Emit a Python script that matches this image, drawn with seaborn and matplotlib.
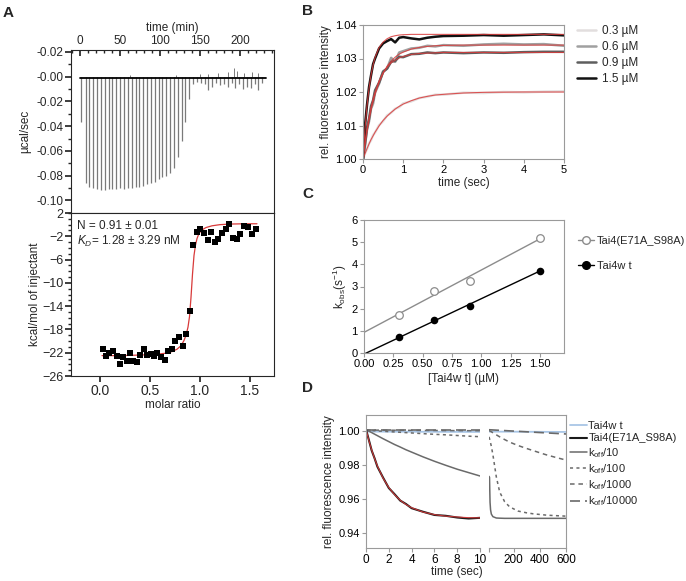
import numpy as np
import pandas as pd
import matplotlib
matplotlib.use('Agg')
import matplotlib.pyplot as plt
import seaborn as sns
from matplotlib.lines import Line2D
from matplotlib.ticker import MultipleLocator, FixedLocator, FixedFormatter, FormatStrFormatter

# ---------------- A: ITC raw thermogram ----------------
inj_time = [1.5, 7.0, 11.8, 16.6, 21.4, 26.2, 31.0, 35.8, 40.6, 45.4, 50.2, 55.0,
            59.8, 64.6, 69.4, 74.2, 79.0, 83.8, 88.6, 93.4, 98.2, 103.0, 107.8,
            112.6, 117.4, 122.2, 127.0, 131.8, 136.6, 141.4, 146.2, 151.0, 155.8,
            160.6, 165.4, 170.2, 175.0, 179.8, 184.6, 189.4, 194.2, 199.0, 203.8,
            208.6, 213.4, 218.2, 223.0, 227.8]
inj_peak = [-0.037, -0.086, -0.089, -0.090, -0.091, -0.092, -0.092, -0.091, -0.091,
            -0.091, -0.090, -0.091, -0.090, -0.090, -0.089, -0.089, -0.088, -0.087,
            -0.086, -0.085, -0.083, -0.081, -0.080, -0.078, -0.074, -0.065, -0.052,
            -0.037, -0.018, -0.006, -0.004, -0.005, -0.006, -0.011, -0.008, -0.005,
            -0.007, -0.006, -0.008, -0.005, -0.009, -0.006, -0.010, -0.008, -0.009,
            -0.006, -0.011, -0.005]
noise_time = [62, 120, 150, 160, 172, 185, 192, 196, 205, 215, 222]
noise_peak = [0.001, 0.001, 0.002, 0.002, 0.003, 0.004, 0.007, 0.005, 0.003, 0.004, 0.003]
base_time = [0, 233]
base_heat = [-0.0008, -0.0008]

# ---------------- A: integrated heats ----------------
molar_ratio = [0.03, 0.06, 0.09, 0.13, 0.17, 0.20, 0.23, 0.27, 0.30, 0.33, 0.37, 0.40,
               0.44, 0.47, 0.51, 0.54, 0.57, 0.61, 0.65, 0.68, 0.72, 0.75, 0.79, 0.83,
               0.86, 0.90, 0.93, 0.97, 1.00, 1.04, 1.08, 1.11, 1.15, 1.18, 1.22, 1.26,
               1.29, 1.33, 1.37, 1.40, 1.44, 1.48, 1.52, 1.56]
heat = [-21.3, -22.5, -22.0, -21.7, -22.5, -23.9, -22.8, -23.5, -22.1, -23.4, -23.6,
        -22.4, -21.4, -22.4, -22.2, -22.6, -22.0, -22.7, -23.2, -21.7, -21.4, -20.0,
        -19.3, -20.9, -18.7, -14.8, -3.5, -1.3, -0.7, -1.4, -2.6, -1.2, -2.9, -2.4,
        -1.4, -0.75, 0.1, -2.3, -2.5, -1.6, -0.3, -0.35, -1.6, -0.7]
fit_ratio = [0.02, 0.2, 0.4, 0.55, 0.65, 0.72, 0.77, 0.81, 0.84, 0.86, 0.88, 0.895,
             0.91, 0.925, 0.94, 0.955, 0.97, 0.99, 1.02, 1.06, 1.12, 1.2, 1.3, 1.45, 1.57]
fit_heat = [-22.5, -22.5, -22.4, -22.3, -22.1, -21.8, -21.4, -20.8, -19.9, -19.0, -17.6,
            -15.8, -12.5, -8.5, -5.3, -3.5, -2.4, -1.5, -0.9, -0.5, -0.2, 0.0, 0.1, 0.15, 0.15]

# ---------------- B: association traces ----------------
b_time = [0, 0.05, 0.1, 0.15, 0.2, 0.25, 0.3, 0.4, 0.5, 0.6, 0.7, 0.8, 0.9, 1.0,
          1.2, 1.4, 1.6, 1.8, 2.0, 2.5, 3.0, 3.5, 4.0, 4.5, 5.0]
b_conc = ['0.3 µM', '0.6 µM', '0.9 µM', '1.5 µM']
trace_03 = [1.0, 1.0017, 1.0030, 1.0046, 1.0056, 1.0071, 1.0079, 1.0101, 1.0113, 1.0130,
            1.0138, 1.0150, 1.0155, 1.0166, 1.0172, 1.0182, 1.0186, 1.0192, 1.0192,
            1.0198, 1.0197, 1.0200, 1.0199, 1.0201, 1.0202]
trace_06 = [1.0, 1.0040, 1.0088, 1.0112, 1.0150, 1.0165, 1.0198, 1.0225, 1.0262, 1.0270,
            1.0302, 1.0290, 1.0318, 1.0322, 1.0330, 1.0332, 1.0338, 1.0336, 1.0340,
            1.0338, 1.0342, 1.0344, 1.0342, 1.0343, 1.0338]
trace_09 = [1.0, 1.0045, 1.0092, 1.0120, 1.0158, 1.0175, 1.0205, 1.0228, 1.0260, 1.0270,
            1.0290, 1.0293, 1.0305, 1.0304, 1.0313, 1.0314, 1.0318, 1.0316, 1.0318,
            1.0316, 1.0318, 1.0317, 1.0319, 1.0320, 1.0320]
trace_15 = [1.0, 1.0100, 1.0162, 1.0215, 1.0250, 1.0283, 1.0300, 1.0330, 1.0345, 1.0352,
            1.0358, 1.0348, 1.0362, 1.0364, 1.0360, 1.0357, 1.0362, 1.0365, 1.0367,
            1.0368, 1.0370, 1.0368, 1.0370, 1.0372, 1.0369]
fit_03 = [1.0, 1.0016, 1.0031, 1.0045, 1.0058, 1.0069, 1.0080, 1.0099, 1.0115, 1.0128,
          1.0139, 1.0149, 1.0157, 1.0164, 1.0174, 1.0182, 1.0187, 1.0191, 1.0193,
          1.0197, 1.0199, 1.01995, 1.0200, 1.0200, 1.0200]
fit_06 = [1.0, 1.0045, 1.0083, 1.0117, 1.0146, 1.0171, 1.0193, 1.0229, 1.0256, 1.0277,
          1.0292, 1.0304, 1.0313, 1.0319, 1.0328, 1.0333, 1.0336, 1.0338, 1.0339,
          1.0340, 1.0340, 1.0340, 1.0340, 1.0340, 1.0340]
fit_09 = [1.0, 1.0048, 1.0089, 1.0124, 1.0154, 1.0179, 1.0200, 1.0233, 1.0257, 1.0274,
          1.0287, 1.0295, 1.0302, 1.0306, 1.0312, 1.0315, 1.0316, 1.0317, 1.0318,
          1.0318, 1.0318, 1.0318, 1.0318, 1.0318, 1.0318]
fit_15 = [1.0, 1.0091, 1.0160, 1.0211, 1.0251, 1.0280, 1.0303, 1.0333, 1.0349, 1.0359,
          1.0365, 1.0368, 1.0370, 1.0371, 1.0372, 1.0372, 1.0372, 1.0372, 1.0372,
          1.0372, 1.0372, 1.0372, 1.0372, 1.0372, 1.0372]

# ---------------- C: kobs vs concentration ----------------
conc = [0.3, 0.6, 0.9, 1.5]
kobs_mut = [1.72, 2.8, 3.27, 5.2]
kobs_wt = [0.7, 1.47, 2.1, 3.7]
line_x = [0.0, 1.5]
line_mut = [0.93, 5.15]
line_wt = [-0.05, 3.7]

# ---------------- D: dissociation ----------------
d_time = [0, 0.25, 0.5, 0.75, 1, 1.5, 2, 2.5, 3, 3.5, 4, 5, 6, 7, 8, 9, 10]
mut_trace = [1.001, 0.9948, 0.9885, 0.9840, 0.9790, 0.9725, 0.9664, 0.9628, 0.9590,
             0.9570, 0.9545, 0.9524, 0.9505, 0.9500, 0.9490, 0.9484, 0.9488]
mut_fit = [1.001, 0.9945, 0.9888, 0.9838, 0.9794, 0.9722, 0.9667, 0.9625, 0.9592,
           0.9567, 0.9548, 0.9522, 0.9507, 0.9498, 0.9493, 0.9489, 0.9488]
k10_left = [1.001, 1.0000, 0.9991, 0.9982, 0.9973, 0.9955, 0.9938, 0.9921, 0.9906,
            0.9890, 0.9876, 0.9848, 0.9822, 0.9798, 0.9775, 0.9755, 0.9735]
k100_left = [1.0005, 1.0004, 1.0003, 1.0002, 1.0001, 0.9999, 0.9997, 0.9995, 0.9993,
             0.9991, 0.9989, 0.9985, 0.9981, 0.9978, 0.9974, 0.9970, 0.9967]
d_time_ends = [0, 10]
wt_left = [0.9997, 0.9995]
k1000_left = [1.0006, 1.0002]
k10000_left = [1.0008, 1.0008]

d_time_r = [10, 14, 16, 18, 22, 28, 40, 66, 92, 130, 168, 232, 296, 347, 424, 449, 520, 600]
k10_right = [0.9733, 0.9727, 0.9650, 0.9580, 0.9535, 0.9510, 0.9495, 0.9487, 0.9486,
             0.9485, 0.9485, 0.9485, 0.9485, 0.9485, 0.9485, 0.9485, 0.9485, 0.9485]
k100_right = [0.9966, 0.9955, 0.9950, 0.9943, 0.9930, 0.9910, 0.9860, 0.9730, 0.9640,
              0.9583, 0.9553, 0.9528, 0.9518, 0.9512, 0.9506, 0.9504, 0.9501, 0.9498]
k1000_right = [1.0003, 1.0002, 1.0001, 1.0000, 0.9998, 0.9996, 0.9990, 0.9978, 0.9966,
               0.9950, 0.9935, 0.9915, 0.9898, 0.9885, 0.9866, 0.9860, 0.9845, 0.9829]
d_time_r_ends = [10, 600]
wt_right = [0.9997, 0.9995]
k10000_right = [1.0008, 0.9983]

# ---------------- style ----------------
sns.set_theme(style='ticks')
plt.rcParams['font.family'] = ['Liberation Sans', 'DejaVu Sans']
plt.rcParams.update({
    'mathtext.fontset': 'custom',
    'mathtext.rm': 'Liberation Sans',
    'mathtext.it': 'Liberation Sans:italic',
    'mathtext.default': 'regular',
    'font.size': 8,
    'axes.labelsize': 8.5,
    'xtick.labelsize': 8,
    'ytick.labelsize': 8,
    'legend.fontsize': 8,
    'axes.linewidth': 0.8,
})

W, H = 686, 581
GRAY = '#9a9a9a'
RED = '#d83a3a'


def box(l, t, r, b):
    return [l / W, 1 - b / H, (r - l) / W, (b - t) / H]


def gray_frame(ax, sides=('left', 'bottom', 'top', 'right')):
    for s in ('left', 'bottom', 'top', 'right'):
        ax.spines[s].set_visible(s in sides)
        ax.spines[s].set_color(GRAY)
    ax.tick_params(color=GRAY, length=3, width=0.8, pad=1.5, labelcolor='black')


fig = plt.figure(figsize=(W / 100, H / 100), dpi=100)

# ---- panel A top ----
axA1 = fig.add_axes(box(71, 50, 274, 213))
axA1.vlines(inj_time, inj_peak, 0, color='#7a7a7a', lw=0.9)
axA1.vlines(noise_time, 0, noise_peak, color='#7a7a7a', lw=0.7)
sns.lineplot(x=base_time, y=base_heat, ax=axA1, color='black', lw=1.3)
axA1.set_xlim(-11.25, 242.5)
axA1.set_ylim(-0.1102, 0.0216)
axA1.xaxis.tick_top()
axA1.xaxis.set_label_position('top')
axA1.set_xticks([0, 50, 100, 150, 200])
axA1.xaxis.set_minor_locator(MultipleLocator(10))
ytA = [0.02, 0.0, -0.02, -0.04, -0.06, -0.08, -0.10]
axA1.yaxis.set_major_locator(FixedLocator(ytA))
axA1.yaxis.set_major_formatter(FixedFormatter(['-0.02', '-0.00', '-0.02', '-0.04',
                                               '-0.06', '-0.08', '-0.10']))
axA1.yaxis.set_minor_locator(MultipleLocator(0.01))
axA1.tick_params(axis='x', which='both', direction='in', pad=2, labelsize=8.5)
axA1.tick_params(axis='x', which='major', length=4)
axA1.tick_params(axis='x', which='minor', length=2)
axA1.tick_params(axis='y', which='major', length=4, pad=1.5, labelsize=8.5)
axA1.tick_params(axis='y', which='minor', length=2)
axA1.set_xlabel('time (min)', labelpad=3)
axA1.set_ylabel('µcal/sec', labelpad=4)

# ---- panel A bottom ----
axA2 = fig.add_axes(box(71, 213, 274, 376))
sns.scatterplot(x=molar_ratio, y=heat, marker='s', color='black', s=16,
                linewidth=0, ax=axA2, zorder=3)
sns.lineplot(x=fit_ratio, y=fit_heat, ax=axA2, color=RED, lw=0.9, sort=False)
axA2.set_xlim(-0.29, 1.74)
axA2.set_ylim(-26, 2)
axA2.set_xticks([0.0, 0.5, 1.0, 1.5])
axA2.xaxis.set_major_formatter(FormatStrFormatter('%.1f'))
axA2.set_yticks([2, -2, -6, -10, -14, -18, -22, -26])
axA2.yaxis.set_minor_locator(MultipleLocator(1))
axA2.tick_params(axis='both', which='major', length=4, pad=1.5)
axA2.tick_params(axis='x', labelsize=10)
axA2.tick_params(axis='y', labelsize=9)
axA2.tick_params(axis='y', which='minor', length=2)
axA2.set_xlabel('molar ratio', labelpad=1)
axA2.set_ylabel('kcal/mol of injectant', labelpad=1)
axA2.text(0.03, 0.955, 'N = 0.91 ± 0.01', transform=axA2.transAxes, fontsize=8.5, va='top')
axA2.text(0.03, 0.87, r'$\mathit{K}_{\mathit{D}}$= 1.28 ± 3.29 nM',
          transform=axA2.transAxes, fontsize=8.5, va='top')

# ---- panel B ----
axB = fig.add_axes(box(363, 25, 564, 159))
df_b = pd.DataFrame({
    'time': b_time * 4,
    'value': trace_03 + trace_06 + trace_09 + trace_15,
    'fit': fit_03 + fit_06 + fit_09 + fit_15,
    'conc': np.repeat(b_conc, len(b_time)),
})
pal_b = dict(zip(b_conc, ['#e2dede', '#a0a0a0', '#5e5e5e', '#111111']))
sns.lineplot(data=df_b, x='time', y='value', hue='conc', palette=pal_b,
             estimator=None, lw=1.8, ax=axB)
sns.lineplot(data=df_b, x='time', y='fit', hue='conc',
             palette=dict(zip(b_conc, [RED] * 4)), estimator=None, lw=0.8,
             ax=axB, legend=False, alpha=0.85)
axB.set_xlim(0, 5)
axB.set_ylim(1.0, 1.04)
axB.set_xticks([0, 1, 2, 3, 4, 5])
axB.set_yticks([1.00, 1.01, 1.02, 1.03, 1.04])
axB.yaxis.set_major_formatter(FormatStrFormatter('%.2f'))
gray_frame(axB)
axB.set_xlabel('time (sec)', labelpad=1)
axB.set_ylabel('rel. fluorescence intensity', labelpad=2)
hB, lB = axB.get_legend_handles_labels()
for h in hB:
    h.set_linewidth(1.8)
axB.legend(hB, lB, loc='upper left', bbox_to_anchor=(577 / W, 1 - 25 / H),
           bbox_transform=fig.transFigure, frameon=False, borderpad=0,
           borderaxespad=0, handlelength=1.6, handletextpad=0.5, labelspacing=0.35,
           fontsize=8.5)

# ---- panel C ----
axC = fig.add_axes(box(364, 220, 564, 353))
sns.lineplot(x=line_x, y=line_mut, ax=axC, color='#8c8c8c', lw=1.0)
sns.lineplot(x=line_x, y=line_wt, ax=axC, color='black', lw=1.0)
sns.scatterplot(x=conc, y=kobs_mut, ax=axC, marker='o', s=30, facecolor='white',
                edgecolor='#8c8c8c', linewidth=0.9, zorder=3)
sns.scatterplot(x=conc, y=kobs_wt, ax=axC, marker='o', s=30, color='black',
                linewidth=0, zorder=3)
axC.set_xlim(0, 1.705)
axC.set_ylim(0, 6)
axC.set_xticks([0.0, 0.25, 0.5, 0.75, 1.0, 1.25, 1.5])
axC.xaxis.set_major_formatter(FormatStrFormatter('%.2f'))
axC.set_yticks([0, 1, 2, 3, 4, 5, 6])
gray_frame(axC)
axC.set_xlabel('[Tai4w t] (µM)', labelpad=3)
axC.set_ylabel(r'k$_{obs}$(s$^{-1}$)', labelpad=2)
hC = [Line2D([], [], color='#8c8c8c', lw=1.0, marker='o', markersize=5.5,
             markerfacecolor='white', markeredgecolor='#8c8c8c'),
      Line2D([], [], color='black', lw=1.0, marker='o', markersize=5.5)]
axC.legend(hC, ['Tai4(E71A_S98A)', 'Tai4w t'], loc='upper left',
           bbox_to_anchor=(578 / W, 1 - 236 / H), bbox_transform=fig.transFigure,
           frameon=False, borderpad=0, borderaxespad=0, handlelength=1.4,
           handletextpad=0.3, labelspacing=1.35)

# ---- panel D (broken x axis) ----
axDf = fig.add_axes(box(366, 415, 566, 548))
axDf.set_xticks([])
axDf.set_yticks([])
axDf.patch.set_alpha(0)
gray_frame(axDf, sides=('top', 'right'))

axDL = fig.add_axes(box(366, 415, 480, 548))
axDR = fig.add_axes(box(489, 415, 566, 548))
for ax in (axDL, axDR):
    ax.patch.set_alpha(0)

styles = {
    'Tai4w t': dict(color='#a9c6e6', lw=1.3, ls='-'),
    'Tai4(E71A_S98A)': dict(color='#1a1a1a', lw=1.5, ls='-'),
    r'k$_{off}$/10': dict(color='#6a6a6a', lw=1.1, ls='-'),
    r'k$_{off}$/100': dict(color='#6a6a6a', lw=1.1, ls=(0, (2, 2.2))),
    r'k$_{off}$/1000': dict(color='#6a6a6a', lw=1.1, ls=(0, (3, 2.5))),
    r'k$_{off}$/10000': dict(color='#6a6a6a', lw=1.2, ls=(0, (6, 3))),
}
names = list(styles)

sns.lineplot(x=d_time_ends, y=wt_left, ax=axDL, **styles[names[0]])
sns.lineplot(x=d_time_ends, y=k10000_left, ax=axDL, **styles[names[5]])
sns.lineplot(x=d_time_ends, y=k1000_left, ax=axDL, **styles[names[4]])
sns.lineplot(x=d_time, y=k100_left, ax=axDL, **styles[names[3]])
sns.lineplot(x=d_time, y=k10_left, ax=axDL, **styles[names[2]])
sns.lineplot(x=d_time, y=mut_trace, ax=axDL, **styles[names[1]])
sns.lineplot(x=d_time, y=mut_fit, ax=axDL, color=RED, lw=0.8, alpha=0.9)

sns.lineplot(x=d_time_r_ends, y=wt_right, ax=axDR, **styles[names[0]])
sns.lineplot(x=d_time_r_ends, y=k10000_right, ax=axDR, **styles[names[5]])
sns.lineplot(x=d_time_r, y=k1000_right, ax=axDR, **styles[names[4]])
sns.lineplot(x=d_time_r, y=k100_right, ax=axDR, **styles[names[3]])
sns.lineplot(x=d_time_r, y=k10_right, ax=axDR, **styles[names[2]])

for ax in (axDL, axDR):
    ax.set_ylim(0.931, 1.0095)
axDL.set_xlim(0, 10)
axDR.set_xlim(10, 600)
axDL.set_xticks([0, 2, 4, 6, 8, 10])
axDR.set_xticks([10, 200, 400, 600])
axDR.set_xticklabels(['', '200', '400', '600'])
axDL.set_yticks([0.94, 0.96, 0.98, 1.00])
axDL.yaxis.set_major_formatter(FormatStrFormatter('%.2f'))
axDR.set_yticks([])
gray_frame(axDL, sides=('left', 'bottom'))
gray_frame(axDR, sides=('bottom',))
for ax in (axDL, axDR):
    ax.tick_params(axis='x', labelsize=8.5)
axDL.set_ylabel('rel. fluorescence intensity', labelpad=2)
fig.text(457 / W, 1 - 572 / H, 'time (sec)', ha='center', va='center', fontsize=8.5)

hD = [Line2D([], [], **styles[n]) for n in names]
axDR.legend(hD, names, loc='upper left', bbox_to_anchor=(570 / W, 1 - 421 / H),
            bbox_transform=fig.transFigure, frameon=False, borderpad=0,
            borderaxespad=0, handlelength=1.5, handletextpad=0.15, labelspacing=0.22)

# ---- panel letters ----
for letter, x, y in [('A', 3, 6), ('B', 302, 4), ('C', 302, 187), ('D', 302, 381)]:
    fig.text(x / W, 1 - y / H, letter, fontsize=11, fontweight='bold', va='top', ha='left')

fig.savefig('out.png', dpi=100)
